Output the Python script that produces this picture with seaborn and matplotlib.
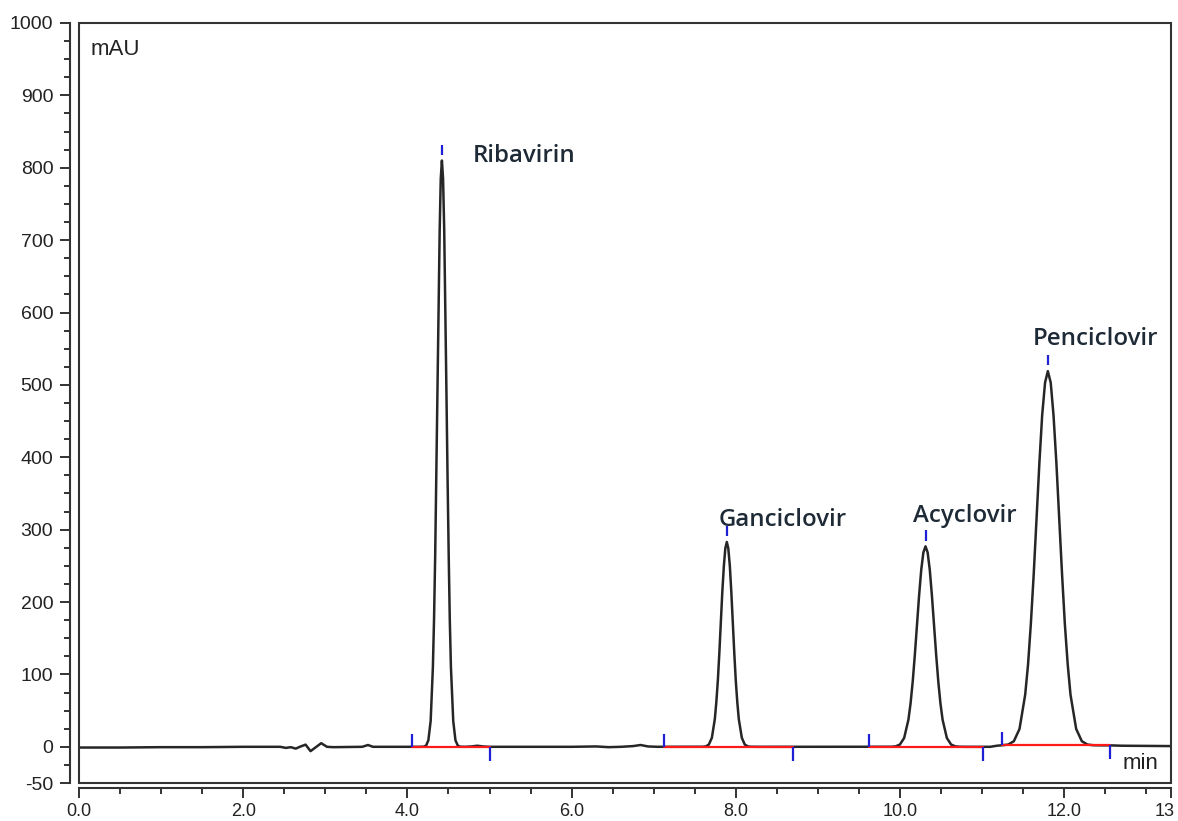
import numpy as np
import pandas as pd
import matplotlib
matplotlib.use("Agg")
import matplotlib.pyplot as plt
import seaborn as sns
from matplotlib.patches import Rectangle
from matplotlib.ticker import MultipleLocator, FixedLocator
from matplotlib.transforms import ScaledTranslation

# ---------------- data ----------------
compounds = ["Ribavirin", "Ganciclovir", "Acyclovir", "Penciclovir"]
apex_time = [4.42, 7.89, 10.31, 11.80]
apex_mau = [810, 283, 277, 519]

# integration baselines (start / end times, level in mAU)
base_start = [4.05, 7.13, 9.62, 11.24]
base_end = [5.00, 8.70, 11.01, 12.56]
base_level = [0.0, 0.0, 0.0, 2.5]

# detector trace pieces
pre_t = [0.0, 0.5, 1.0, 1.5, 2.0, 2.45, 2.52, 2.58, 2.64, 2.70, 2.76, 2.82,
         2.88, 2.95, 3.02, 3.10, 3.45, 3.52, 3.58, 4.00, 4.15]
pre_mau = [-1.0, -1.0, -0.5, -0.5, 0.0, 0.0, -1.5, -0.5, -2.5, 0.5, 3.0, -6.0,
           -1.0, 5.0, 0.0, -0.5, 0.0, 2.5, 0.0, 0.0, 0.0]

ribavirin_t = [4.200, 4.228, 4.255, 4.283, 4.310, 4.324, 4.338, 4.351, 4.365,
               4.379, 4.393, 4.406, 4.420, 4.434, 4.448, 4.461, 4.475, 4.489,
               4.503, 4.516, 4.530, 4.558, 4.585, 4.613, 4.640]
ribavirin_mau = [0.2, 1.8, 9.0, 35.6, 109.6, 175.2, 263.0, 370.8, 491.3, 611.4,
                 714.8, 785.1, 810.0, 785.1, 714.8, 611.4, 491.3, 370.8, 263.0,
                 175.2, 109.6, 35.6, 9.0, 1.8, 0.2]

mid1_t = [4.70, 4.78, 4.85, 4.92, 5.00, 5.50, 6.00, 6.30, 6.45, 6.60, 6.75,
          6.84, 6.93, 7.05, 7.50]
mid1_mau = [0.0, 0.5, 1.5, 0.5, 0.0, 0.0, 0.0, 0.5, -0.5, 0.0, 1.0, 2.5, 0.5,
            0.0, 0.0]

ganciclovir_t = [7.598, 7.635, 7.671, 7.708, 7.744, 7.762, 7.781, 7.799, 7.817,
                 7.835, 7.854, 7.872, 7.890, 7.908, 7.927, 7.945, 7.963, 7.981,
                 7.999, 8.018, 8.036, 8.073, 8.109, 8.146, 8.182]
ganciclovir_mau = [0.1, 0.6, 3.1, 12.4, 38.3, 61.2, 91.9, 129.6, 171.6, 213.6,
                   249.7, 274.3, 283.0, 274.3, 249.7, 213.6, 171.6, 129.6, 91.9,
                   61.2, 38.3, 12.4, 3.1, 0.6, 0.1]

mid2_t = [8.30, 8.70, 9.20, 9.80]
mid2_mau = [0.0, 0.0, 0.0, 0.0]

acyclovir_t = [9.894, 9.946, 9.998, 10.050, 10.102, 10.128, 10.154, 10.180,
               10.206, 10.232, 10.258, 10.284, 10.310, 10.336, 10.362, 10.388,
               10.414, 10.440, 10.466, 10.492, 10.518, 10.570, 10.622, 10.674,
               10.726]
acyclovir_mau = [0.1, 0.6, 3.1, 12.2, 37.5, 59.9, 89.9, 126.8, 168.0, 209.1,
                 244.5, 268.5, 277.0, 268.5, 244.5, 209.1, 168.0, 126.8, 89.9,
                 59.9, 37.5, 12.2, 3.1, 0.6, 0.1]

mid3_t = [10.80, 11.00, 11.10, 11.18]
mid3_mau = [0.0, 0.0, 0.0, 1.5]

penciclovir_t = [11.248, 11.317, 11.386, 11.455, 11.524, 11.559, 11.593, 11.628,
                 11.662, 11.697, 11.731, 11.766, 11.800, 11.835, 11.869, 11.904,
                 11.938, 11.973, 12.007, 12.042, 12.076, 12.145, 12.214, 12.283,
                 12.352]
penciclovir_mau = [2.2, 3.1, 7.7, 24.7, 72.0, 113.8, 169.9, 238.7, 315.6, 392.2,
                   458.3, 503.1, 519.0, 503.1, 458.3, 392.2, 315.6, 238.7, 169.9,
                   113.8, 72.0, 24.7, 7.7, 3.1, 2.2]

post_t = [12.45, 12.56, 12.70, 13.30]
post_mau = [2.0, 2.0, 1.5, 1.0]

x_ticks = [0.0, 2.0, 4.0, 6.0, 8.0, 10.0, 12.0, 13.3]
x_tick_labels = ["0.0", "2.0", "4.0", "6.0", "8.0", "10.0", "12.0", "13"]
y_ticks = [-50, 0, 100, 200, 300, 400, 500, 600, 700, 800, 900, 1000]

# ---------------- build table ----------------
trace = pd.DataFrame({
    "time": pre_t + ribavirin_t + mid1_t + ganciclovir_t + mid2_t + acyclovir_t
            + mid3_t + penciclovir_t + post_t,
    "mAU": pre_mau + ribavirin_mau + mid1_mau + ganciclovir_mau + mid2_mau
           + acyclovir_mau + mid3_mau + penciclovir_mau + post_mau,
}).sort_values("time")

# ---------------- figure ----------------
sns.set_theme(style="white")
plt.rcParams["font.family"] = ["Liberation Sans", "DejaVu Sans"]

fig = plt.figure(figsize=(11.78, 8.21), dpi=100)
ax = fig.add_axes([79 / 1178, 38 / 821, 1092 / 1178, 760 / 821])

sns.lineplot(data=trace, x="time", y="mAU", ax=ax, estimator=None,
             color="#262626", lw=1.8, zorder=3)

# red baselines
for s, e, lv in zip(base_start, base_end, base_level):
    ax.plot([s, e], [lv, lv], color="#ff1a1a", lw=1.6, zorder=4)
# blue start/end marks
ax.vlines(base_start, [lv for lv in base_level],
          [lv + 18 for lv in base_level], color="#1f1fd6", lw=1.6, zorder=5)
ax.vlines(base_end, [lv for lv in base_level],
          [lv - 19 for lv in base_level], color="#1f1fd6", lw=1.6, zorder=5)
# apex marks
ax.vlines(apex_time, [h + 8 for h in apex_mau], [h + 22 for h in apex_mau],
          color="#1f1fd6", lw=1.6, zorder=5)

# compound labels
label_dx = [0.37, -0.10, -0.15, -0.18]
label_dy = [6, 30, 42, 44]
for name, t, h, dx, dy in zip(compounds, apex_time, apex_mau, label_dx, label_dy):
    ax.text(t + dx, h + dy, name, ha="left", va="center", fontsize=17.3,
            fontweight="semibold", family=["Open Sans", "DejaVu Sans"],
            color="#1e2a36", zorder=6)

ax.text(0.011, 0.965, "mAU", transform=ax.transAxes, ha="left", va="center",
        fontsize=16, color="#222")
ax.text(0.9725, 0.026, "min", transform=ax.transAxes, ha="center", va="center",
        fontsize=16, color="#222")

ax.set_xlim(0, 13.3)
ax.set_ylim(-50, 1000)
ax.set_xlabel("")
ax.set_ylabel("")

ax.xaxis.set_major_locator(FixedLocator(x_ticks))
ax.set_xticklabels(x_tick_labels)
ax.xaxis.set_minor_locator(MultipleLocator(0.5))
ax.yaxis.set_major_locator(FixedLocator(y_ticks))
ax.set_yticklabels([str(v) for v in y_ticks])
ax.yaxis.set_minor_locator(MultipleLocator(25))

ax.tick_params(axis="both", which="major", length=7, width=1.4, color="#333",
               labelsize=14, labelcolor="#222")
ax.tick_params(axis="x", which="major", labelsize=13)
ax.tick_params(axis="both", which="minor", length=4, width=1.4, color="#333")
ax.tick_params(axis="x", which="both", bottom=True, pad=4)
ax.tick_params(axis="y", which="both", left=True, pad=5)

for side in ["top", "right"]:
    ax.spines[side].set_visible(False)
ax.spines["left"].set_position(("outward", 6.5))
ax.spines["bottom"].set_position(("outward", 3.6))
for side in ["left", "bottom"]:
    ax.spines[side].set_linewidth(1.5)
    ax.spines[side].set_color("#333")

ax.add_patch(Rectangle((0, 0), 1, 1, transform=ax.transAxes, fill=False,
                       lw=1.5, edgecolor="#333", zorder=10, clip_on=False))

fig.canvas.draw()
last_tick = ax.xaxis.get_major_ticks()[-1]
last_tick.label1.set_horizontalalignment("right")
last_tick.label1.set_transform(last_tick.label1.get_transform()
                               + ScaledTranslation(4 / 100, 0, fig.dpi_scale_trans))

fig.savefig("out.png", dpi=100)
